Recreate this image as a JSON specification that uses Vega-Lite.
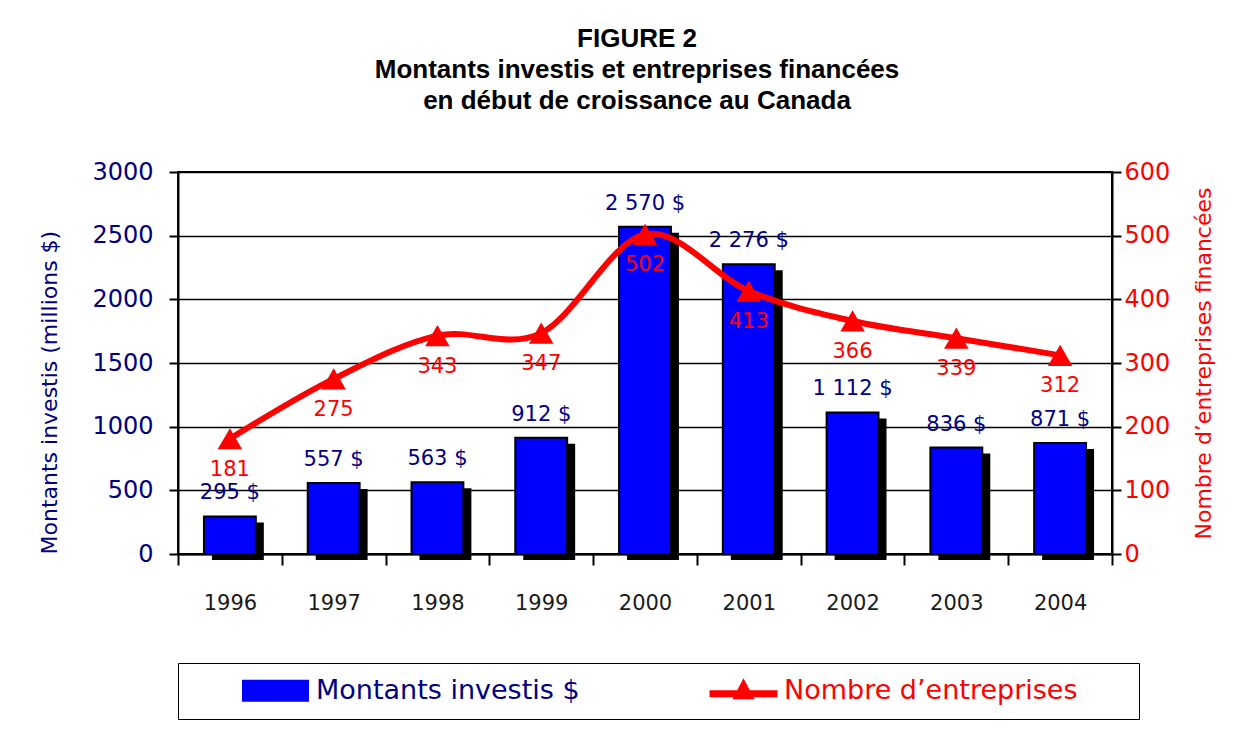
{
  "$schema": "https://vega.github.io/schema/vega-lite/v6.json",
  "width": 934,
  "height": 382,
  "autosize": "none",
  "padding": {"left": 178, "top": 172, "right": 137, "bottom": 193},
  "background": "white",
  "title": {
    "text": ["FIGURE 2", "Montants investis et entreprises financées", "en début de croissance au Canada"],
    "font": "Liberation Sans",
    "fontSize": 26,
    "fontWeight": "bold",
    "color": "black",
    "lineHeight": 31,
    "offset": 46,
    "dx": -8,
    "anchor": "middle"
  },
  "data": {
    "values": [
      {"annee": "1996", "montant": 295, "nombre": 181, "etiquette": "295 $"},
      {"annee": "1997", "montant": 557, "nombre": 275, "etiquette": "557 $"},
      {"annee": "1998", "montant": 563, "nombre": 343, "etiquette": "563 $"},
      {"annee": "1999", "montant": 912, "nombre": 347, "etiquette": "912 $"},
      {"annee": "2000", "montant": 2570, "nombre": 502, "etiquette": "2 570 $"},
      {"annee": "2001", "montant": 2276, "nombre": 413, "etiquette": "2 276 $"},
      {"annee": "2002", "montant": 1112, "nombre": 366, "etiquette": "1 112 $"},
      {"annee": "2003", "montant": 836, "nombre": 339, "etiquette": "836 $"},
      {"annee": "2004", "montant": 871, "nombre": 312, "etiquette": "871 $"}
    ]
  },
  "encoding": {
    "x": {
      "field": "annee",
      "type": "nominal",
      "title": null,
      "scale": {"paddingInner": 0, "paddingOuter": 0},
      "axis": {
        "labelAngle": 0,
        "labelFont": "DejaVu Sans",
        "labelFontSize": 21,
        "labelColor": "#1a1a1a",
        "labelPadding": 27,
        "tickBand": "extent",
        "tickSize": 11,
        "tickWidth": 2,
        "tickColor": "black",
        "domainColor": "black",
        "domainWidth": 2
      }
    }
  },
  "layer": [
    {
      "encoding": {
        "y": {
          "field": "montant",
          "type": "quantitative",
          "scale": {"domain": [0, 3000], "nice": false},
          "axis": {
            "orient": "left",
            "values": [0, 500, 1000, 1500, 2000, 2500, 3000],
            "format": "d",
            "title": "Montants investis (millions $)",
            "titleFont": "DejaVu Sans",
            "titleFontSize": 22,
            "titleFontWeight": "normal",
            "titleColor": "#000080",
            "titleAnchor": "start",
            "titlePadding": 30,
            "labelFont": "DejaVu Sans",
            "labelFontSize": 24,
            "labelColor": "#000080",
            "labelPadding": 16,
            "tickSize": 9,
            "tickWidth": 2,
            "tickColor": "black",
            "domainColor": "black",
            "domainWidth": 2,
            "grid": true,
            "gridColor": "black",
            "gridWidth": 1.5
          }
        }
      },
      "layer": [
        {
          "mark": {"type": "bar", "color": "black", "width": {"band": 0.5}, "xOffset": 8, "yOffset": 6, "y2Offset": 3}
        },
        {
          "mark": {"type": "bar", "stroke": "black", "strokeWidth": 2, "width": {"band": 0.5}},
          "encoding": {
            "color": {
              "datum": "Montants investis $",
              "type": "nominal",
              "scale": {"domain": ["Montants investis $", "Nombre d’entreprises"], "range": ["#0000FF", "#FF0000"]},
              "legend": {
                "title": " ",
                "titleOrient": "right",
                "titlePadding": 48,
                "titleFontSize": 27,
                "orient": "bottom",
                "direction": "horizontal",
                "offset": 50,
                "padding": 14,
                "strokeColor": "black",
                "fillColor": "white",
                "labelFont": "DejaVu Sans",
                "labelFontSize": 27,
                "labelOffset": 27,
                "symbolOffset": 70,
                "symbolSize": 400,
                "columnPadding": 80,
                "labelLimit": 500,
                "labelColor": {"expr": "datum.value === 'Montants investis $' ? '#000080' : '#FF0000'"},
                "symbolType": {"expr": "datum.value === 'Montants investis $' ? 'M-3.25,-1L3.25,-1L3.25,1L-3.25,1Z' : 'M-3.4,-0.1L3.4,-0.1L3.4,0.6L-3.4,0.6Z M-1.1,0.8L0,-1.3L1.1,0.8Z'"},
                "symbolStrokeColor": {"expr": "datum.value === 'Montants investis $' ? 'black' : '#FF0000'"},
                "symbolStrokeWidth": {"expr": "datum.value === 'Montants investis $' ? 2 : 0"},
                "symbolOpacity": 1
              }
            }
          }
        },
        {
          "mark": {"type": "text", "font": "DejaVu Sans", "fontSize": 21, "color": "#000080", "dy": -23, "baseline": "middle"},
          "encoding": {"text": {"field": "etiquette"}}
        }
      ]
    },
    {
      "encoding": {
        "y": {
          "field": "nombre",
          "type": "quantitative",
          "scale": {"domain": [0, 600], "nice": false},
          "axis": {
            "orient": "right",
            "values": [0, 100, 200, 300, 400, 500, 600],
            "title": "Nombre d’entreprises financées",
            "titleFont": "DejaVu Sans",
            "titleFontSize": 22,
            "titleFontWeight": "normal",
            "titleColor": "#FF0000",
            "titleAngle": 270,
            "titleAnchor": "middle",
            "titlePadding": 46,
            "labelFont": "DejaVu Sans",
            "labelFontSize": 24,
            "labelColor": "#FF0000",
            "labelPadding": 3,
            "tickSize": 9,
            "tickWidth": 2,
            "tickColor": "black",
            "domainColor": "black",
            "domainWidth": 2,
            "grid": false
          }
        }
      },
      "layer": [
        {
          "mark": {"type": "line", "interpolate": "cardinal", "strokeWidth": 6},
          "encoding": {
            "color": {"datum": "Nombre d’entreprises", "type": "nominal"}
          }
        },
        {
          "mark": {"type": "point", "shape": "triangle-up", "filled": true, "color": "#FF0000", "size": 600, "opacity": 1}
        },
        {
          "mark": {"type": "text", "font": "DejaVu Sans", "fontSize": 21, "color": "#FF0000", "dy": 31, "baseline": "middle"},
          "encoding": {"text": {"field": "nombre"}}
        }
      ]
    }
  ],
  "resolve": {"scale": {"y": "independent"}},
  "config": {
    "view": {"stroke": "black", "strokeWidth": 2}
  }
}
